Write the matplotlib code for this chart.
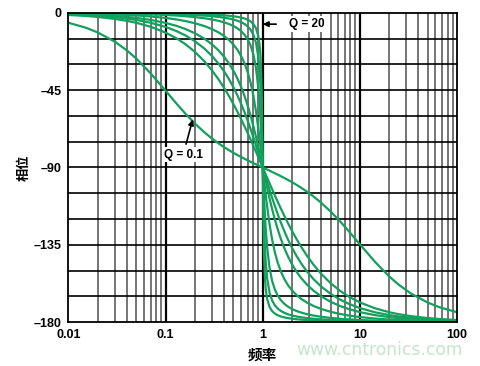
import matplotlib
matplotlib.use("Agg")
import matplotlib.pyplot as plt
from matplotlib.ticker import FixedLocator, NullFormatter

freq = [0.01, 0.015, 0.02, 0.03, 0.04, 0.05, 0.07, 0.1, 0.13, 0.16, 0.2, 0.25, 0.3, 0.35, 0.4, 0.45,
        0.5, 0.55, 0.6, 0.65, 0.7, 0.75, 0.8, 0.85, 0.9, 0.93, 0.95, 0.97, 0.98, 0.99, 1.0,
        1.0101, 1.0204, 1.0309, 1.0526, 1.0753, 1.1111, 1.1765, 1.25, 1.3333, 1.4286, 1.5385,
        1.6667, 1.8182, 2.0, 2.2222, 2.5, 2.8571, 3.3333, 4.0, 5.0, 6.25, 7.6923, 10.0, 14.286,
        20.0, 25.0, 33.333, 50.0, 66.667, 100.0]

phase_q01 = [-5.71, -8.53, -11.32, -16.71, -21.84, -26.62, -35.13, -45.29, -52.90, -58.66, -64.36, -69.44,
             -73.13, -75.92, -78.14, -79.95, -81.47, -82.77, -83.91, -84.92, -85.83, -86.66, -87.42, -88.13,
             -88.79, -89.17, -89.41, -89.65, -89.77, -89.88, -90.0,
             -90.12, -90.23, -90.35, -90.59, -90.83, -91.21, -91.87, -92.58, -93.34, -94.17, -95.08, -96.09,
             -97.23, -98.53, -100.05, -101.86, -104.08, -106.87, -110.56, -115.64, -121.34, -127.10, -134.71,
             -144.87, -153.38, -158.16, -163.29, -168.68, -171.47, -174.29]
phase_q05 = [-1.15, -1.72, -2.29, -3.44, -4.58, -5.72, -8.01, -11.42, -14.81, -18.18, -22.62, -28.07,
             -33.40, -38.58, -43.60, -48.45, -53.13, -57.62, -61.93, -66.05, -69.98, -73.74, -77.32, -80.73,
             -83.97, -85.85, -87.06, -88.26, -88.84, -89.42, -90.0,
             -90.58, -91.16, -91.74, -92.94, -94.15, -96.03, -99.27, -102.68, -106.26, -110.02, -113.95,
             -118.07, -122.38, -126.87, -131.55, -136.40, -141.42, -146.60, -151.93, -157.38, -161.82,
             -165.19, -168.58, -171.99, -174.28, -175.42, -176.56, -177.71, -178.28, -178.85]
phase_q0707 = [-0.81, -1.22, -1.62, -2.43, -3.24, -4.05, -5.68, -8.13, -10.59, -13.07, -16.42, -20.66,
               -25.00, -29.42, -33.96, -38.59, -43.31, -48.12, -52.97, -57.86, -62.74, -67.58, -72.35, -77.00,
               -81.51, -84.14, -85.85, -87.53, -88.36, -89.19, -90.0,
               -90.81, -91.64, -92.47, -94.15, -95.86, -98.49, -103.00, -107.65, -112.42, -117.26, -122.14,
               -127.03, -131.88, -136.69, -141.41, -146.04, -150.58, -155.00, -159.34, -163.58, -166.93,
               -169.41, -171.87, -174.32, -175.95, -176.76, -177.57, -178.38, -178.78, -179.19]
phase_q1 = [-0.57, -0.86, -1.15, -1.72, -2.29, -2.87, -4.02, -5.77, -7.53, -9.33, -11.77, -14.93,
            -18.25, -21.75, -25.46, -29.43, -33.69, -38.26, -43.15, -48.38, -53.92, -59.74, -65.77, -71.92,
            -78.08, -81.73, -84.14, -86.51, -87.69, -88.85, -90.0,
            -91.15, -92.31, -93.49, -95.86, -98.27, -101.92, -108.08, -114.23, -120.26, -126.08, -131.62,
            -136.85, -141.74, -146.31, -150.57, -154.54, -158.25, -161.75, -165.07, -168.23, -170.67,
            -172.47, -174.23, -175.98, -177.13, -177.71, -178.28, -178.85, -179.14, -179.43]
phase_q2 = [-0.29, -0.43, -0.57, -0.86, -1.15, -1.44, -2.01, -2.89, -3.78, -4.69, -5.95, -7.59,
            -9.36, -11.28, -13.39, -15.76, -18.43, -21.52, -25.11, -29.37, -34.46, -40.60, -48.01, -56.85,
            -67.11, -73.80, -78.40, -83.05, -85.38, -87.70, -90.0,
            -92.30, -94.62, -96.95, -101.60, -106.20, -112.89, -123.15, -131.99, -139.40, -145.54, -150.63,
            -154.89, -158.48, -161.57, -164.24, -166.61, -168.72, -170.64, -172.41, -174.05, -175.31,
            -176.22, -177.11, -177.99, -178.56, -178.85, -179.14, -179.43, -179.57, -179.71]
phase_q5 = [-0.11, -0.17, -0.23, -0.34, -0.46, -0.57, -0.81, -1.16, -1.52, -1.88, -2.39, -3.05,
            -3.77, -4.56, -5.44, -6.44, -7.59, -8.96, -10.62, -12.69, -15.35, -18.93, -23.96, -31.49,
            -43.45, -54.00, -62.83, -73.06, -78.58, -84.26, -90.0,
            -95.74, -101.42, -106.94, -117.17, -126.00, -136.55, -148.51, -156.04, -161.07, -164.65, -167.31,
            -169.38, -171.04, -172.41, -173.56, -174.56, -175.44, -176.23, -176.95, -177.61, -178.12,
            -178.48, -178.84, -179.19, -179.43, -179.54, -179.66, -179.77, -179.83, -179.89]
phase_q10 = [-0.06, -0.09, -0.11, -0.17, -0.23, -0.29, -0.40, -0.58, -0.76, -0.94, -1.19, -1.53,
             -1.89, -2.28, -2.73, -3.23, -3.81, -4.51, -5.36, -6.42, -7.82, -9.73, -12.53, -17.03,
             -25.35, -34.54, -44.26, -58.65, -68.00, -78.63, -90.0,
             -101.37, -112.00, -121.35, -135.74, -145.46, -154.65, -162.97, -167.47, -170.27, -172.18, -173.58,
             -174.64, -175.49, -176.19, -176.77, -177.27, -177.72, -178.11, -178.47, -178.81, -179.06,
             -179.24, -179.42, -179.60, -179.71, -179.77, -179.83, -179.89, -179.91, -179.94]
phase_q20 = [-0.03, -0.04, -0.06, -0.09, -0.11, -0.14, -0.20, -0.29, -0.38, -0.47, -0.60, -0.76,
             -0.94, -1.14, -1.36, -1.62, -1.91, -2.26, -2.68, -3.22, -3.93, -4.90, -6.34, -8.71,
             -13.32, -18.99, -25.97, -39.37, -51.06, -68.10, -90.0,
             -111.90, -128.94, -140.63, -154.03, -161.01, -166.68, -171.29, -173.66, -175.10, -176.07, -176.78,
             -177.32, -177.74, -178.09, -178.38, -178.64, -178.86, -179.06, -179.24, -179.40, -179.53,
             -179.62, -179.71, -179.80, -179.86, -179.89, -179.91, -179.94, -179.96, -179.97]

series = [phase_q01, phase_q05, phase_q0707, phase_q1, phase_q2, phase_q5, phase_q10, phase_q20]

x_ticks = [0.01, 0.1, 1, 10, 100]
x_tick_labels = ["0.01", "0.1", "1", "10", "100"]
y_ticks = [0, -45, -90, -135, -180]
y_tick_labels = ["0", "\u201345", "\u201390", "\u2013135", "\u2013180"]

GREEN = "#12a05c"

fig = plt.figure(figsize=(4.81, 3.66), dpi=100)
ax = fig.add_axes([0.1424, 0.1202, 0.8076, 0.8443])
ax.set_xscale("log")
ax.set_xlim(0.01, 100)
ax.set_ylim(-180, 0)

# grid
minor_x = [m * 10.0 ** e for e in range(-2, 2) for m in range(2, 10)]
for xv in minor_x:
    ax.axvline(xv, color="#6a6a6a", lw=1.3, zorder=1)
for xv in [0.1, 1, 10]:
    ax.axvline(xv, color="black", lw=1.6, zorder=1)
for yv in range(-165, 0, 15):
    ax.axhline(yv, color="black", lw=1.2, zorder=1)

for ph in series:
    ax.plot(freq, ph, color=GREEN, lw=1.6, zorder=3, solid_capstyle="round", solid_joinstyle="round")

ax.xaxis.set_minor_locator(FixedLocator([]))
ax.xaxis.set_minor_formatter(NullFormatter())
ax.set_xticks(x_ticks)
ax.set_xticklabels(x_tick_labels)
ax.set_yticks(y_ticks)
ax.set_yticklabels(y_tick_labels)
ax.tick_params(axis="both", length=0, pad=5)
for lab in ax.get_xticklabels() + ax.get_yticklabels():
    lab.set_fontfamily("Liberation Sans")
    lab.set_fontweight("bold")
    lab.set_fontsize(9)
for sp in ax.spines.values():
    sp.set_color("black")
    sp.set_linewidth(1.3)
    sp.set_zorder(4)

cjk = ["Noto Sans CJK SC", "DejaVu Sans"]
ax.set_ylabel("相位", family=cjk, fontweight="bold", fontsize=9.5, labelpad=2)
ax.set_xlabel("频率", family=cjk, fontweight="bold", fontsize=10.5, labelpad=4)

ax.annotate("Q = 0.1", xy=(0.19, -62), xytext=(0.152, -82.5),
            ha="center", va="center", fontsize=8.5, fontweight="bold", family="Liberation Sans",
            bbox=dict(boxstyle="square,pad=0.15", fc="white", ec="none"),
            arrowprops=dict(arrowstyle="-|>", color="black", lw=1.2, mutation_scale=8,
                            shrinkA=2, shrinkB=0), zorder=5)
ax.annotate("Q = 20", xy=(1.0, -6.5), xytext=(2.85, -6.5),
            ha="center", va="center", fontsize=8.5, fontweight="bold", family="Liberation Sans",
            bbox=dict(boxstyle="square,pad=0.15", fc="white", ec="none"),
            arrowprops=dict(arrowstyle="-|>", color="black", lw=1.2, mutation_scale=8,
                            shrinkA=8, shrinkB=0), zorder=5)

fig.text(0.789, 0.044, "www.cntronics.com", color="#c5e6c9", fontsize=12.3,
         family="DejaVu Sans", ha="center", va="center")

fig.savefig("out.png", dpi=100)
